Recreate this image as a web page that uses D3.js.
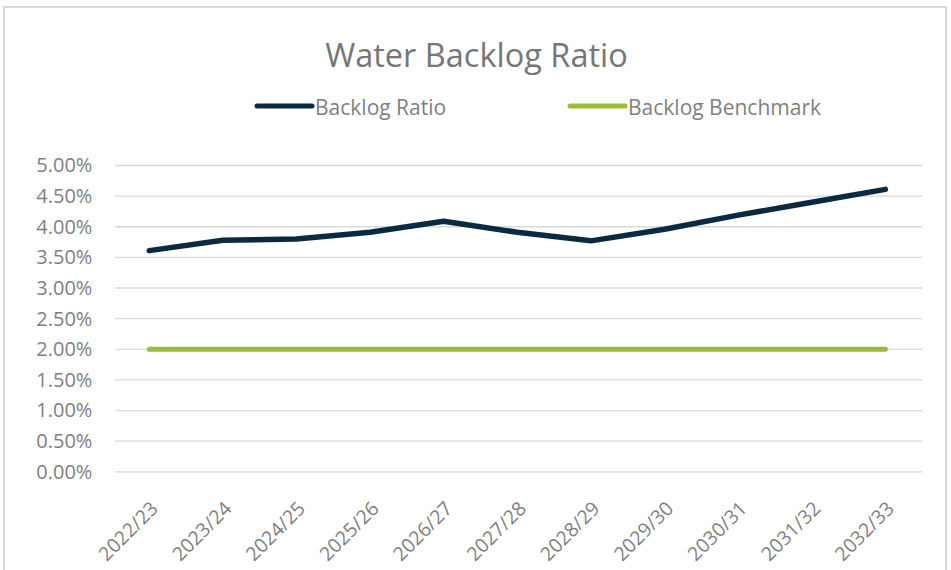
<!DOCTYPE html>
<html><head><meta charset="utf-8">
<script src="https://cdn.jsdelivr.net/npm/d3@7"></script>
<style>html,body{margin:0;padding:0;background:#fff;}svg{display:block;font-family:"Open Sans",sans-serif;}</style>
</head><body>
<svg id="c" width="951" height="570"></svg>
<script>
const categories = ["2022/23","2023/24","2024/25","2025/26","2026/27","2027/28","2028/29","2029/30","2030/31","2031/32","2032/33"];
const backlogRatio = [3.61,3.78,3.80,3.91,4.09,3.91,3.77,3.96,4.19,4.40,4.61];
const backlogBenchmark = [2.00,2.00,2.00,2.00,2.00,2.00,2.00,2.00,2.00,2.00,2.00];
const yTicks = [0,0.5,1,1.5,2,2.5,3,3.5,4,4.5,5];
const seriesNames = ["Backlog Ratio","Backlog Benchmark"];
const colors = ["#0b2a42","#9bbb3c"];

const svg = d3.select("#c");
svg.append("rect").attr("x",4).attr("y",7).attr("width",942).attr("height",580)
  .attr("fill","#fff").attr("stroke","#d9d9d9").attr("stroke-width",2);

const L=112.4, R=922.2, T=165.5, B=471.8;
const x = d3.scaleBand().domain(categories).range([L,R]);
const y = d3.scaleLinear().domain([0,5]).range([B,T]);

const grid = svg.append("g");
grid.selectAll("line").data(yTicks).join("line")
  .attr("x1",115).attr("x2",R).attr("y1",d=>y(d)).attr("y2",d=>y(d))
  .attr("stroke","#d9d9d9").attr("stroke-width",1.3);

const yAxis = svg.append("g").attr("transform",`translate(${L},0)`)
  .call(d3.axisLeft(y).tickValues(yTicks).tickFormat(d=>d.toFixed(2)+"%").tickSize(0).tickPadding(20));
yAxis.select(".domain").remove();
yAxis.selectAll("text").attr("fill","#7f7f7f").style("font-size","20px").style("font-family","Open Sans");

const xAxis = svg.append("g").attr("transform",`translate(0,${B})`)
  .call(d3.axisBottom(x).tickSize(0).tickPadding(0));
xAxis.select(".domain").remove();
xAxis.selectAll("text").attr("fill","#7f7f7f").style("font-size","19.5px").style("font-family","Open Sans")
  .attr("text-anchor","end").attr("dy",0).attr("y",0)
  .attr("transform","translate(10,38) rotate(-45)");

const line = d3.line().x((d,i)=>x(categories[i])+x.bandwidth()/2).y(d=>y(d));
svg.append("path").datum(backlogBenchmark).attr("d",line).attr("fill","none")
  .attr("stroke",colors[1]).attr("stroke-width",5).attr("stroke-linecap","round").attr("stroke-linejoin","round");
svg.append("path").datum(backlogRatio).attr("d",line).attr("fill","none")
  .attr("stroke",colors[0]).attr("stroke-width",5.5).attr("stroke-linecap","round").attr("stroke-linejoin","round");

svg.append("text").attr("x",476.5).attr("y",66.5).attr("text-anchor","middle")
  .attr("fill","#767676").style("font-size","32.5px").text("Water Backlog Ratio");

const legX = [257,570];
seriesNames.forEach((n,i)=>{
  svg.append("line").attr("x1",legX[i]).attr("x2",legX[i]+55).attr("y1",106).attr("y2",106)
    .attr("stroke",colors[i]).attr("stroke-width",5).attr("stroke-linecap","round");
  svg.append("text").attr("x",legX[i]+58).attr("y",114.5).attr("fill","#7f7f7f")
    .style("font-size","21px").text(n);
});
</script>
</body></html>
